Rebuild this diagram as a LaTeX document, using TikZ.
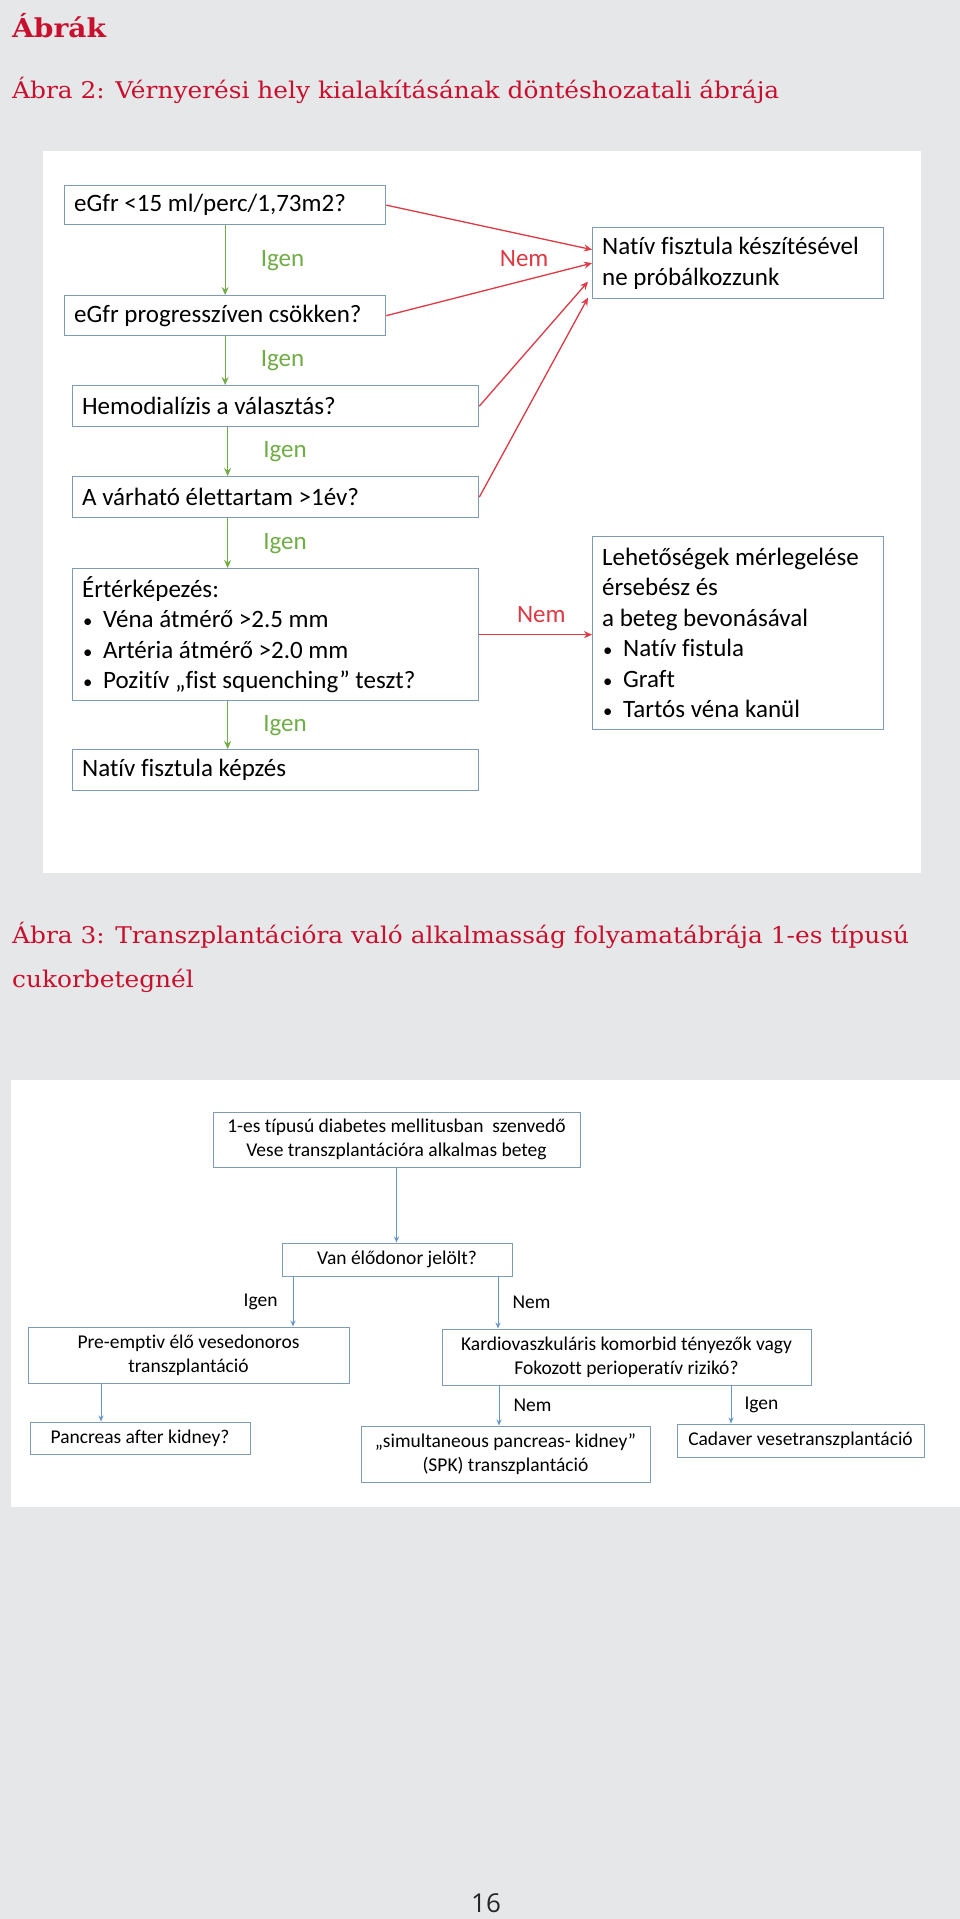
\documentclass[tikz,border=0pt]{standalone}
\usepackage{fontspec}
\setmainfont{Carlito}[Ligatures=NoCommon]
\newfontfamily\headfont[FakeStretch=1.08]{DejaVu Serif}
\newfontfamily\numfont{Open Sans}
\usetikzlibrary{arrows.meta,positioning}

\definecolor{pagegray}{RGB}{230,231,232}
\definecolor{headred}{RGB}{200,16,46}
\definecolor{boxline}{RGB}{125,155,182}
\definecolor{yesgreen}{RGB}{112,173,71}
\definecolor{nored}{RGB}{220,58,68}
\definecolor{flowblue}{RGB}{100,150,200}

\newcommand{\bul}{\makebox[21pt][l]{\hspace{1pt}\scalebox{0.75}{\textbullet}}}

\begin{document}
\begin{tikzpicture}[x=1pt,y=-1pt,>={Stealth[length=8pt,width=7pt]}]
  \tikzstyle{qbox}=[draw=boxline,line width=1.3pt,fill=white,anchor=north west,align=flush left,inner xsep=9.5pt,inner ysep=0pt,font=\fontsize{25}{30.5}\selectfont]
  \tikzstyle{tbox}=[draw=boxline,line width=1pt,fill=white,align=center,inner sep=0pt,font=\fontsize{19.5}{24}\selectfont]
  \tikzstyle{yesarrow}=[->,draw=yesgreen,line width=1.3pt]
  \tikzstyle{noarrow}=[->,draw=nored,line width=1.3pt]
  \tikzstyle{flow}=[-{Stealth[length=6pt,width=5pt]},draw=flowblue,line width=1pt]
  \tikzstyle{yeslabel}=[right=33pt,inner sep=2pt,text=yesgreen,font=\fontsize{25}{30}\selectfont]
  \tikzstyle{nolabel}=[inner sep=2pt,text=nored,font=\fontsize{25}{30}\selectfont]
  \tikzstyle{flowlabel}=[inner sep=2pt,text=black,font=\fontsize{19.5}{24}\selectfont]
  \tikzstyle{heading}=[anchor=base west,inner sep=0pt,text=headred]

  % page and the two white panels
  \useasboundingbox (0,0) rectangle (960,1919);
  \fill[pagegray] (0,0) rectangle (960,1919);
  \fill[white] (43,151) rectangle (921,873);
  \fill[white] (11,1080) rectangle (960,1507);

  \node[heading,font=\headfont\bfseries\fontsize{26}{30}\selectfont] (title) at (12,38) {Ábrák};
  \node[heading,font=\headfont\fontsize{23}{28}\selectfont] (cap2) at (12,99) {Ábra 2: Vérnyerési hely kialakításának döntéshozatali ábrája};

  % Abra 2
  \node[qbox,text width=302,minimum height=39] (egfr) at (64,185) {eGfr <15 ml/perc/1,73m2?};
  \node[qbox,text width=302,minimum height=40] (prog) at (64,295) {eGfr progresszíven csökken?};
  \node[qbox,text width=387,minimum height=41] (hemo) at (72,385) {Hemodialízis a választás?};
  \node[qbox,text width=387,minimum height=41] (elet) at (72,476) {A várható élettartam >1év?};
  \node[qbox,text width=387,minimum height=132] (kep) at (72,568) {Értérképezés:\\
    \bul Véna átmérő >2.5 mm\\
    \bul Artéria átmérő >2.0 mm\\
    \bul Pozitív „fist squenching” teszt?};
  \node[qbox,text width=387,minimum height=41] (nativ) at (72,749) {Natív fisztula képzés};
  \node[qbox,text width=272,minimum height=71] (nofist) at (592,227) {Natív fisztula készítésével\\ne próbálkozzunk};
  \node[qbox,text width=272,minimum height=193] (options) at (592,536) {Lehetőségek mérlegelése\\érsebész és\\a beteg bevonásával\\
    \bul Natív fistula\\
    \bul Graft\\
    \bul Tartós véna kanül};

  \draw[yesarrow] (egfr) -- node[yeslabel] (igen1) {Igen} (prog);
  \draw[yesarrow] (prog) -- node[yeslabel] (igen2) {Igen} (prog |- hemo.north);
  \draw[yesarrow] ([xshift=-48pt]hemo.south) -- node[yeslabel] (igen3) {Igen} ([xshift=-48pt]elet.north);
  \draw[yesarrow] ([xshift=-48pt]elet.south) -- node[yeslabel] (igen4) {Igen} ([xshift=-48pt]kep.north);
  \draw[yesarrow] ([xshift=-48pt]kep.south) -- node[yeslabel] (igen5) {Igen} ([xshift=-48pt]nativ.north);

  \draw[noarrow] (egfr.east) -- ([yshift=13.5pt]nofist.west);
  \draw[noarrow] (prog.east) -- node[nolabel,pos=0.67,above=11pt] (nem1) {Nem} (nofist.west);
  \draw[noarrow] (hemo.east) -- ([xshift=-4pt,yshift=-18.5pt]nofist.west);
  \draw[noarrow] (elet.east) -- ([xshift=-4pt,yshift=-34.5pt]nofist.west);
  \draw[noarrow] (kep.east) -- node[nolabel,pos=0.55,above=9pt] (nem2) {Nem} (kep.east -| options.west);

  \node[heading,font=\headfont\fontsize{23}{28}\selectfont] (cap3) at (12,943) {Ábra 3: Transzplantációra való alkalmasság folyamatábrája 1-es típusú};
  \node[heading,font=\headfont\fontsize{23}{28}\selectfont] (cap3b) at (12,987) {cukorbetegnél};

  % Abra 3
  \node[tbox,minimum width=367,minimum height=55] (pat) at (396.5,1139.5) {1-es típusú diabetes mellitusban\ \ szenvedő\\Vese transzplantációra alkalmas beteg};
  \node[tbox,minimum width=230,minimum height=33] (donor) at (397,1259.5) {Van élődonor jelölt?};
  \node[tbox,minimum width=321,minimum height=56] (pre) at (188.5,1355) {Pre-emptiv élő vesedonoros\\transzplantáció};
  \node[tbox,minimum width=369,minimum height=56] (kardio) at (626.5,1357) {Kardiovaszkuláris komorbid tényezők vagy\\Fokozott perioperatív rizikó?};
  \node[tbox,minimum width=220,minimum height=32] (pak) at (140,1438) {Pancreas after kidney?};
  \node[tbox,minimum width=289,minimum height=56] (spk) at (505.5,1454) {„simultaneous pancreas- kidney”\\(SPK) transzplantáció};
  \node[tbox,minimum width=247,minimum height=33] (cadaver) at (800.5,1440.5) {Cadaver vesetranszplantáció};

  \draw[flow] (pat) -- (pat |- donor.north);
  \draw[flow] ([xshift=-104pt]donor.south) -- node[flowlabel,left=13pt] (igen6) {Igen} ([xshift=104.5pt]pre.north);
  \draw[flow] ([xshift=101pt]donor.south) -- node[flowlabel,right=12pt] (nem3) {Nem} ([xshift=-128.5pt]kardio.north);
  \draw[flow] ([xshift=-87.5pt]pre.south) -- ([xshift=-39pt]pak.north);
  \draw[flow] ([xshift=-127.5pt]kardio.south) -- node[flowlabel,right=12pt] (nem4) {Nem} ([xshift=-6.5pt]spk.north);
  \draw[flow] ([xshift=104.5pt]kardio.south) -- node[flowlabel,right=11pt] (igen7) {Igen} ([xshift=-69.5pt]cadaver.north);

  \node[anchor=base,inner sep=0pt,text=black!85,font=\numfont\fontsize{26}{30}\selectfont] (pnum) at (486,1912) {16};
\end{tikzpicture}
\end{document}
